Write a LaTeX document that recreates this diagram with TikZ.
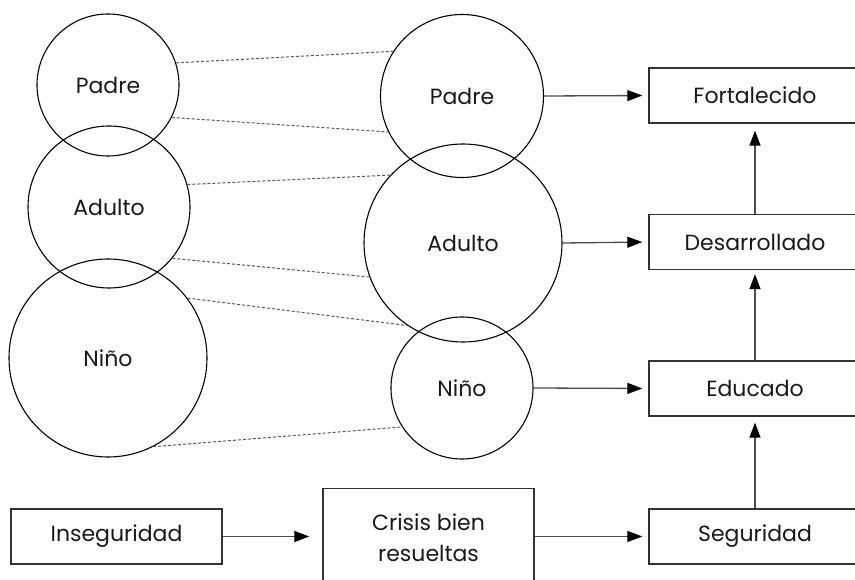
\documentclass[tikz,border=0pt]{standalone}
\usepackage{fontspec}
\setmainfont{Poppins}
\usetikzlibrary{arrows.meta}
\begin{document}
\begin{tikzpicture}[x=1pt,y=-1pt,
  every node/.style={font=\fontsize{22}{31}\selectfont, text=black!90},
  circ/.style={circle, draw=black, line width=1.1pt, inner sep=0pt},
  stbox/.style={draw=black!80, line width=1.4pt, minimum width=212pt, minimum height=55pt, inner sep=0pt},
  conn/.style={draw=black!70, line width=1.3pt, -{Triangle[length=15pt,width=11pt,color=black]}, shorten >=6pt},
  dline/.style={draw=black!65, line width=1pt, dash pattern=on 3pt off 2pt}]
\useasboundingbox (0,0) rectangle (855,580);
% circles
\node[circ, minimum size=142pt] (padreL) at (108,85) {Padre};
\node[circ, minimum size=162pt] (adultoL) at (109,207) {Adulto};
\node[circ, minimum size=198pt] (ninoL) at (108,358) {Niño};
\node[circ, minimum size=163pt] (padreM) at (462,96) {Padre};
\node[circ, minimum size=198pt] (adultoM) at (463,243) {Adulto};
\node[circ, minimum size=142pt] (ninoM) at (462,388) {Niño};
% boxes
\node[stbox] (fort) at (755,95.5) {Fortalecido};
\node[stbox] (desa) at (755,242) {Desarrollado};
\node[stbox] (educ) at (755,388.5) {Educado};
\node[stbox] (seg) at (755,536.5) {Seguridad};
\node[stbox, minimum width=211pt] (inseg) at (116.5,536.5) {Inseguridad};
\node[stbox, minimum width=211pt, minimum height=120pt, anchor=north,
  label={[align=center, yshift=10.5pt, font=\fontsize{22}{31}\selectfont, text=black!90]center:Crisis bien\\resueltas}]
  (crisis) at (428.5,488) {};
% dashed links
\draw[dline] (padreL.18) -- (padreM.147);
\draw[dline] (padreL.-27) -- (padreM.206);
\draw[dline] (adultoL.16) -- (adultoM.137);
\draw[dline] (adultoL.-39) -- (adultoM.200);
\draw[dline] (ninoL.37) -- (adultoM.236);
\draw[dline] (ninoL.-63) -- (ninoM.213);
% arrows
\draw[conn] (padreM.east) -- (fort.west);
\draw[conn] (adultoM.east) -- (desa.west);
\draw[conn] (ninoM.east) -- (educ.west);
\draw[conn, shorten >=13pt] (inseg.east) -- (inseg.east -| crisis.west);
\draw[conn] (seg.west -| crisis.east) -- (seg.west);
\draw[conn] (seg.north) -- (educ.south);
\draw[conn, shorten >=4pt] (educ.north) -- (desa.south);
\draw[conn, shorten >=7pt] (desa.north) -- (fort.south);
\end{tikzpicture}
\end{document}
